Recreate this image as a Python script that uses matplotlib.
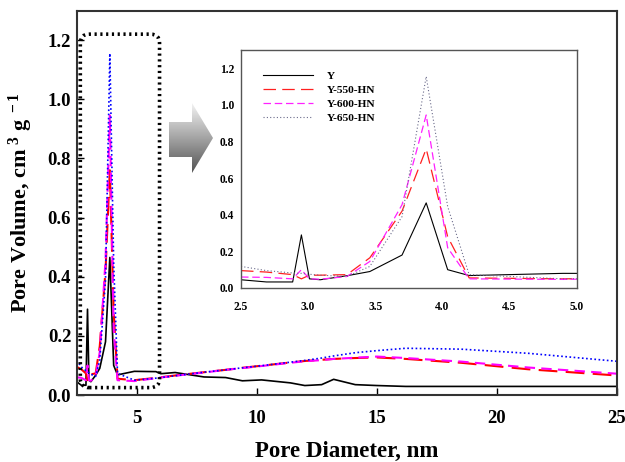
import numpy as np
import matplotlib
matplotlib.use("Agg")
import matplotlib.pyplot as plt
from matplotlib.patches import FancyBboxPatch, Polygon

plt.rcParams['font.family'] = ['Liberation Serif', 'DejaVu Serif']
plt.rcParams['font.weight'] = 'bold'
plt.rcParams['mathtext.fontset'] = 'custom'
plt.rcParams['mathtext.rm'] = 'Liberation Serif:bold'
plt.rcParams['mathtext.bf'] = 'Liberation Serif:bold'
plt.rcParams['mathtext.it'] = 'Liberation Serif:bold'

# pore diameter (nm), shared by all samples
diameter = [2.5, 2.69, 2.885, 2.95, 3.01, 3.09, 3.29, 3.46, 3.70, 3.88, 4.04, 4.2,
            4.9, 5.8, 6.0, 6.6, 7.8, 8.7, 9.4, 10.2, 11.4, 12.0, 12.7, 13.2,
            14.1, 15.0, 16.2, 18.5, 21.3, 25.0]

vol_y = [0.045, 0.033, 0.033, 0.29, 0.05, 0.045, 0.067, 0.09, 0.18, 0.465, 0.10, 0.068,
         0.08, 0.079, 0.072, 0.076, 0.061, 0.059, 0.048, 0.051, 0.041, 0.032, 0.035, 0.053,
         0.035, 0.032, 0.029, 0.029, 0.029, 0.029]
vol_550 = [0.095, 0.087, 0.073, 0.05, 0.07, 0.07, 0.073, 0.165, 0.42, 0.76, 0.28, 0.055,
           0.05, 0.058, 0.060, 0.066, 0.077, 0.085, 0.092, 0.099, 0.110, 0.115, 0.119, 0.122,
           0.125, 0.127, 0.122, 0.109, 0.087, 0.066]
vol_600 = [0.06, 0.058, 0.05, 0.10, 0.05, 0.048, 0.063, 0.145, 0.455, 0.945, 0.22, 0.05,
           0.047, 0.057, 0.059, 0.065, 0.076, 0.085, 0.091, 0.098, 0.109, 0.114, 0.118, 0.122,
           0.126, 0.130, 0.125, 0.113, 0.093, 0.072]
vol_650 = [0.118, 0.095, 0.082, 0.08, 0.075, 0.07, 0.063, 0.118, 0.39, 1.155, 0.445, 0.073,
           0.05, 0.057, 0.059, 0.065, 0.077, 0.085, 0.092, 0.099, 0.111, 0.117, 0.125, 0.132,
           0.143, 0.150, 0.158, 0.155, 0.141, 0.114]

labels = ['Y', 'Y-550-HN', 'Y-600-HN', 'Y-650-HN']
main_ticks = [5, 10, 15, 20, 25]
inset_ticks = [2.5, 3.0, 3.5, 4.0, 4.5, 5.0]
y_ticks = [0.0, 0.2, 0.4, 0.6, 0.8, 1.0, 1.2]

series = [vol_y, vol_550, vol_600, vol_650]
main_styles = [
    dict(color='black', lw=1.2, ls='-'),
    dict(color='#ff0000', lw=1.5, ls=(0, (9, 4))),
    dict(color='#ff00ff', lw=1.5, ls=(0, (5, 3))),
    dict(color='#0000ff', lw=1.2, ls=(0, (1, 1.5))),
]
inset_styles = [
    dict(color='black', lw=0.8, ls='-'),
    dict(color='#ff2020', lw=0.9, ls=(0, (10, 5))),
    dict(color='#ff20ff', lw=0.9, ls=(0, (6, 3))),
    dict(color='#6a6a8a', lw=0.8, ls=(0, (1, 2))),
]

W, H = 625, 462
fig = plt.figure(figsize=(W / 100, H / 100), dpi=100)

ax = fig.add_axes([76.7 / W, 1 - 395 / H, (617 - 76.7) / W, (395 - 10.5) / H])
for vals, st in zip(series, main_styles):
    ax.plot(diameter, vals, **st)
ax.set_xlim(2.5, 25)
ax.set_ylim(0, 1.3)
ax.set_xticks(main_ticks)
ax.set_yticks(y_ticks)
ax.set_yticklabels([f'{v:.1f}' for v in y_ticks])
ax.tick_params(direction='in', length=5, width=1, labelsize=13.5, colors='black')
ax.tick_params(axis='x', pad=11)
ax.tick_params(axis='y', pad=4)
for sp in ax.spines.values():
    sp.set_linewidth(1.5)
    sp.set_color('#333333')
ax.set_xlabel('Pore Diameter, nm', fontsize=16.5, fontweight='bold', labelpad=10)
ax.set_ylabel('Pore Volume, cm$^{\\ 3}$ g$^{\\ -1}$', fontsize=16, fontweight='bold', labelpad=9)

# dotted rounded frame around the zoomed region
fig.canvas.draw()
to_in = ax.transData + fig.dpi_scale_trans.inverted()
(bx0, by0), (bx1, by1) = to_in.transform([(2.65, 0.025), (5.95, 1.22)])
box = FancyBboxPatch((bx0, by0), bx1 - bx0, by1 - by0,
                     boxstyle='round,pad=0,rounding_size=0.09',
                     transform=fig.dpi_scale_trans, fill=False,
                     ec='black', lw=2.6, ls=(0, (0.6, 1.0)), zorder=5)
fig.add_artist(box)

# inset
ins = fig.add_axes([241 / W, 1 - 288 / H, (576.5 - 241) / W, (288 - 50) / H])
for vals, st, lab in zip(series, inset_styles, labels):
    ins.plot(diameter, vals, label=lab, **st)
ins.set_xlim(2.5, 5.0)
ins.set_ylim(0, 1.3)
ins.set_xticks(inset_ticks)
ins.set_xticklabels([f'{v:.1f}' for v in inset_ticks])
ins.set_yticks(y_ticks)
ins.set_yticklabels([f'{v:.1f}' for v in y_ticks])
ins.tick_params(length=0, labelsize=8.3, colors='black')
ins.tick_params(axis='x', pad=9)
ins.tick_params(axis='y', pad=5)
for sp in ins.spines.values():
    sp.set_linewidth(1.0)
    sp.set_color('#555555')
ins.legend(loc='upper left', bbox_to_anchor=(0.035, 0.955), frameon=False,
           fontsize=8.2, handlelength=4.4, handletextpad=1.25, labelspacing=0.36)

# gradient arrow pointing to the inset
ov = fig.add_axes([0, 0, 1, 1], zorder=6)
ov.set_xlim(0, W)
ov.set_ylim(H, 0)
ov.axis('off')
arrow_pts = [(169, 122), (192, 122), (192, 103), (213, 138),
             (192, 173), (192, 157), (169, 157)]
poly = Polygon(arrow_pts, closed=True, fc='none', ec='none')
ov.add_patch(poly)
grad = np.linspace(0.95, 0.33, 100).reshape(-1, 1)
im = ov.imshow(grad, cmap='gray', vmin=0, vmax=1, aspect='auto',
               extent=[169, 213, 173, 103], interpolation='bilinear')
im.set_clip_path(poly)
ov.set_xlim(0, W)
ov.set_ylim(H, 0)

fig.savefig('out.png', dpi=100)
